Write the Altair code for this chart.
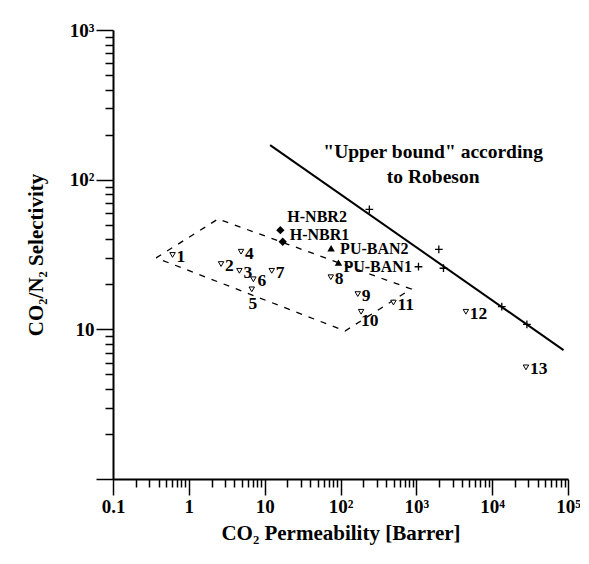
import altair as alt
import pandas as pd

# ---------------- data ----------------
num_ids = ["1", "2", "3", "4", "5", "6", "7", "8", "9", "10", "11", "12", "13"]
num_perm = [0.61, 2.66, 4.64, 4.88, 6.76, 7.1, 12.4, 74.5, 169, 187, 499, 4500, 27900]
num_sel = [31.4, 27.3, 24.6, 33.0, 18.5, 21.6, 24.6, 22.3, 17.2, 13.1, 15.1, 13.1, 5.57]

hnbr_names = ["H-NBR2", "H-NBR1"]
hnbr_perm = [16.1, 17.3]
hnbr_sel = [46.0, 38.5]

puban_names = ["PU-BAN2", "PU-BAN1"]
puban_perm = [75.2, 94.0]
puban_sel = [34.8, 27.9]

plus_perm = [240, 1067, 1980, 2280, 13400, 28700]
plus_sel = [63.3, 26.2, 34.2, 25.6, 14.2, 10.8]

bound_perm = [11.8, 87300]
bound_sel = [170, 7.27]

region_perm = [0.37, 2.43, 853, 115, 0.37]
region_sel = [30.0, 54.6, 18.6, 9.75, 30.0]

note_lines = ['"Upper bound" according', "to Robeson"]
note_perm = [1667, 1667]
note_sel = [153, 104]

x_major = [0.1, 1, 10, 100, 1000, 10000, 100000]
y_major = [1, 10, 100, 1000]
x_minor = [m * 10.0 ** k for k in range(-1, 5) for m in range(2, 10)]
y_minor = [m * 10.0 ** k for k in range(0, 3) for m in range(2, 10)]

num_df = pd.DataFrame({"id": num_ids, "p": num_perm, "s": num_sel})
hnbr_df = pd.DataFrame({"name": hnbr_names, "p": hnbr_perm, "s": hnbr_sel})
puban_df = pd.DataFrame({"name": puban_names, "p": puban_perm, "s": puban_sel})
plus_df = pd.DataFrame({"p": plus_perm, "s": plus_sel})
bound_df = pd.DataFrame({"p": bound_perm, "s": bound_sel})
region_df = pd.DataFrame({"p": region_perm, "s": region_sel, "o": list(range(len(region_perm)))})
note_df = pd.DataFrame({"t": note_lines, "p": note_perm, "s": note_sel})

FONT = "Liberation Serif"
W, H = 455, 449
xscale = alt.Scale(type="log", domain=[0.1, 100000], nice=False)
yscale = alt.Scale(type="log", domain=[1, 1000], nice=False)

IS_MAJOR = "abs(log(datum.value)/LN10 - round(log(datum.value)/LN10)) < 0.001"
sup = "['⁰','¹','²','³','⁴','⁵']"
x_axis = alt.Axis(
    values=sorted(x_major + x_minor), title="CO₂ Permeability [Barrer]",
    labelExpr=(f"!({IS_MAJOR}) ? '' : datum.value < 0.5 ? '0.1' : datum.value < 50 ? "
               f"format(datum.value, 'd') : '10' + {sup}[round(log(datum.value)/LN10)]"),
    tickSize={"condition": {"test": IS_MAJOR, "value": 16}, "value": 8},
    tickWidth=1.5, tickColor="black", domainColor="black", domainWidth=2,
    labelFont=FONT, labelFontSize=19, labelFontWeight="bold", labelColor="black", labelPadding=2,
    titleFont=FONT, titleFontSize=21, titleFontWeight="bold", titleColor="black", titlePadding=6,
    grid=False, orient="bottom", labelFlush=False, labelOverlap=False,
)
y_axis = alt.Axis(
    values=sorted(y_major + y_minor), title="CO₂/N₂ Selectivity",
    labelExpr=(f"!({IS_MAJOR}) ? '' : datum.value < 5 ? '' : datum.value < 50 ? '10' : "
               f"'10' + {sup}[round(log(datum.value)/LN10)]"),
    tickSize={"condition": {"test": IS_MAJOR, "value": 17}, "value": 8},
    tickWidth=1.5, tickColor="black", domainColor="black", domainWidth=2,
    labelFont=FONT, labelFontSize=19, labelFontWeight="bold", labelColor="black", labelPadding=2,
    titleFont=FONT, titleFontSize=21, titleFontWeight="bold", titleColor="black", titlePadding=23,
    grid=False, orient="left", labelFlush=False, labelOverlap=False,
)

XE = alt.X("p:Q", scale=xscale, axis=x_axis)
YE = alt.Y("s:Q", scale=yscale, axis=y_axis)


def enc():
    return dict(x=XE, y=YE)


bound = alt.Chart(bound_df).mark_line(color="black", strokeWidth=2).encode(**enc())

region = alt.Chart(region_df).mark_line(color="black", strokeWidth=1.3, strokeDash=[6, 7]).encode(
    order="o:O", **enc())

tri_down = alt.Chart(num_df).mark_point(shape="triangle-down", size=30, filled=True, fill="white",
                                        stroke="black", strokeWidth=1, opacity=1).encode(**enc())

num_main = alt.Chart(num_df).transform_filter("datum.id != '5' && datum.id != '10'").mark_text(
    align="left", baseline="middle", dx=4, dy=2, font=FONT, fontSize=17.5, fontWeight="bold",
    color="black").encode(text="id:N", **enc())
num_5 = alt.Chart(num_df).transform_filter("datum.id == '5'").mark_text(
    align="center", baseline="middle", dx=1, dy=15, font=FONT, fontSize=17.5, fontWeight="bold",
    color="black").encode(text="id:N", **enc())
num_10 = alt.Chart(num_df).transform_filter("datum.id == '10'").mark_text(
    align="left", baseline="middle", dx=0, dy=9, font=FONT, fontSize=17.5, fontWeight="bold",
    color="black").encode(text="id:N", **enc())

diam = alt.Chart(hnbr_df).mark_point(shape="diamond", size=70, filled=True, color="black",
                                     opacity=1).encode(**enc())
hnbr2_t = alt.Chart(hnbr_df).transform_filter("datum.name == 'H-NBR2'").mark_text(
    align="left", baseline="middle", dx=7, dy=-13, font=FONT, fontSize=16, fontWeight="bold",
    color="black").encode(text="name:N", **enc())
hnbr1_t = alt.Chart(hnbr_df).transform_filter("datum.name == 'H-NBR1'").mark_text(
    align="left", baseline="middle", dx=7, dy=-7, font=FONT, fontSize=16, fontWeight="bold",
    color="black").encode(text="name:N", **enc())

tri_up = alt.Chart(puban_df).mark_point(shape="triangle-up", size=55, filled=True, color="black",
                                        opacity=1).encode(**enc())
pu2_t = alt.Chart(puban_df).transform_filter("datum.name == 'PU-BAN2'").mark_text(
    align="left", baseline="middle", dx=9, dy=1, font=FONT, fontSize=16, fontWeight="bold",
    color="black").encode(text="name:N", **enc())
pu1_t = alt.Chart(puban_df).transform_filter("datum.name == 'PU-BAN1'").mark_text(
    align="left", baseline="middle", dx=5, dy=4, font=FONT, fontSize=16, fontWeight="bold",
    color="black").encode(text="name:N", **enc())

plus = alt.Chart(plus_df).mark_point(shape="M-1,0H1M0,-1V1", size=60, filled=False, color="black",
                                     strokeWidth=1.3, opacity=1).encode(**enc())

note = alt.Chart(note_df).mark_text(align="center", baseline="middle", font=FONT, fontSize=19.5,
                                    fontWeight="bold", color="black").encode(text="t:N", **enc())

chart = alt.layer(
    bound, region, tri_down, num_main, num_5, num_10, diam, hnbr2_t, hnbr1_t,
    tri_up, pu2_t, pu1_t, plus, note,
).properties(
    width=W, height=H,
    autosize=alt.AutoSizeParams(type="none"),
    padding={"left": 105, "top": 22, "right": 12, "bottom": 75},
    background="white",
).configure_view(stroke=None)

chart.save("out.html", embed_options={"renderer": "svg", "actions": False})
